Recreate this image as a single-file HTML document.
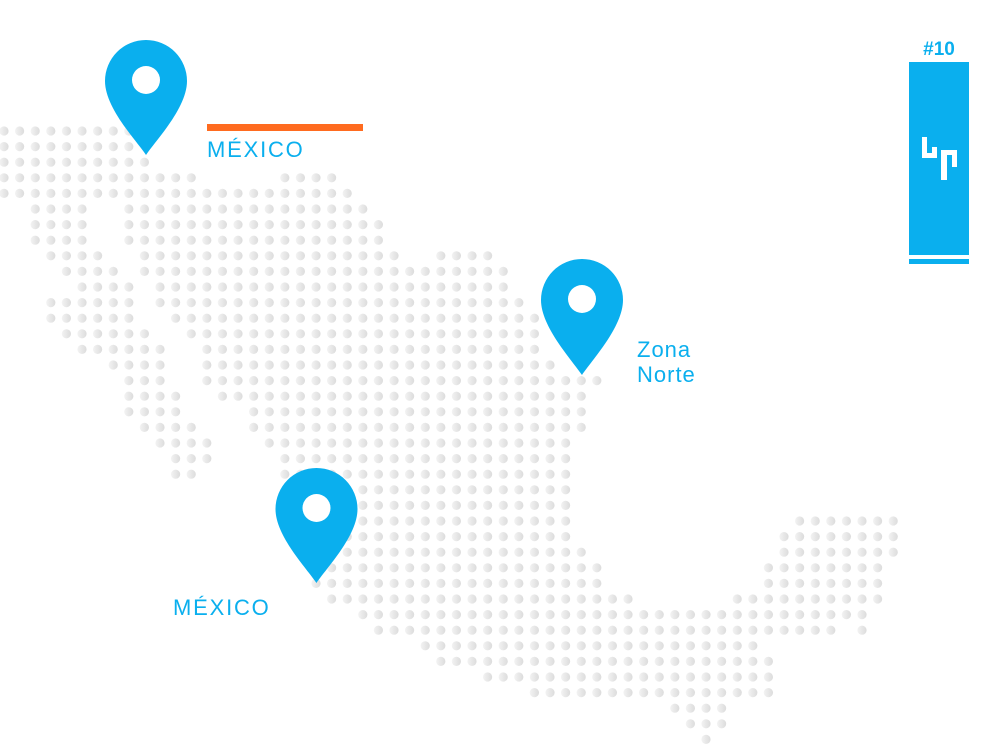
<!DOCTYPE html>
<html><head><meta charset="utf-8">
<style>
html,body{margin:0;padding:0;background:#fff;width:1000px;height:744px;overflow:hidden;}
svg{display:block}
text{font-family:"Liberation Sans",sans-serif;}
</style></head>
<body>
<svg id="s" width="1000" height="744" viewBox="0 0 1000 744" xmlns="http://www.w3.org/2000/svg">
<defs>
<linearGradient id="g" x1="0" x2="1" y1="0" y2="0">
<stop offset="0" stop-color="#f3f3f3"/><stop offset="1" stop-color="#dcdcdc"/>
</linearGradient>
</defs>
<g id="dots"></g>
<rect x="207" y="124" width="156" height="7" fill="#FF6B1F"/>
<text x="207" y="157" font-size="22" fill="#0AAFEE" letter-spacing="1.8">MÉXICO</text>
<text x="173" y="615" font-size="22" fill="#0AAFEE" letter-spacing="1.8">MÉXICO</text>
<text x="637" y="357" font-size="22" fill="#0AAFEE" letter-spacing="1">Zona</text>
<text x="637" y="382" font-size="22" fill="#0AAFEE" letter-spacing="1">Norte</text>
<g fill="#0AAFEE">
<path transform="translate(146,40)" d="M0,115 C-10,100 -41,68 -41,41 A41,41 0 0 1 41,41 C41,68 10,100 0,115 Z"/>
<path transform="translate(582,259)" d="M0,116 C-10,101 -41,68 -41,41 A41,41 0 0 1 41,41 C41,68 10,101 0,116 Z"/>
<path transform="translate(316.5,468)" d="M0,115 C-10,100 -41,68 -41,41 A41,41 0 0 1 41,41 C41,68 10,100 0,115 Z"/>
</g>
<g fill="#fff">
<circle cx="146" cy="80" r="14"/>
<circle cx="582" cy="299" r="14"/>
<circle cx="316.5" cy="508" r="14"/>
</g>
<text x="939" y="55" font-size="19" font-weight="bold" fill="#0AAFEE" text-anchor="middle">#10</text>
<rect x="909" y="62" width="60" height="193" fill="#0AAFEE"/>
<rect x="909" y="259" width="60" height="5" fill="#0AAFEE"/>
<g fill="#fff">
<rect x="922" y="137" width="5" height="21"/>
<rect x="922" y="153" width="15" height="5"/>
<rect x="932" y="147" width="5" height="11"/>
<rect x="941" y="150" width="6" height="30"/>
<rect x="941" y="150" width="16" height="5"/>
<rect x="952" y="150" width="5" height="17"/>
</g>
</svg>
<script>
var R=[
[[0,8]],[[0,8]],[[0,9]],[[0,12],[18,21]],[[0,22]],
[[2,5],[8,23]],[[2,5],[8,24]],[[2,5],[8,24]],[[3,6],[9,25],[28,31]],[[4,7],[9,32]],
[[5,8],[10,32]],[[3,8],[10,33]],[[3,8],[11,34]],[[4,9],[12,34]],[[5,10],[13,34]],
[[7,10],[13,35]],[[8,10],[13,38]],[[8,11],[14,37]],[[8,11],[16,37]],[[9,12],[16,37]],
[[10,13],[17,36]],[[11,13],[18,36]],[[11,12],[18,36]],[[19,36]],[[19,36]],
[[19,36],[51,57]],[[19,36],[50,57]],[[20,37],[50,57]],[[21,38],[49,56]],[[20,38],[49,56]],
[[21,40],[47,56]],[[23,55]],[[24,53],[55,55]],[[27,48]],[[28,49]],
[[31,49]],[[34,49]],[[43,46]],[[44,46]],[[45,45]]
];
var h='';
for(var r=0;r<R.length;r++){var y=(131+15.6*r).toFixed(1);
for(var k=0;k<R[r].length;k++){for(var c=R[r][k][0];c<=R[r][k][1];c++){
h+='<circle cx="'+(4+15.6*c).toFixed(1)+'" cy="'+y+'" r="4.6" fill="url(#g)"/>';}}}
document.getElementById('dots').innerHTML=h;
</script>
</body></html>
